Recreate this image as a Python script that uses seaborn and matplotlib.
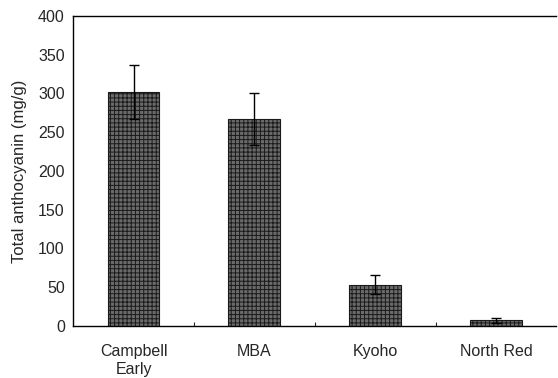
import numpy as np
import pandas as pd
import matplotlib
matplotlib.use("Agg")
import matplotlib.pyplot as plt
import seaborn as sns

# values
cultivars = ["Campbell\nEarly", "MBA", "Kyoho", "North Red"]
anthocyanin = [302, 267, 53, 7]
sd = [35, 34, 12, 3]

df = pd.DataFrame({"cultivar": cultivars, "value": anthocyanin})

sns.set_style("white")
plt.rcParams["font.family"] = ["Liberation Sans", "DejaVu Sans"]
plt.rcParams["hatch.color"] = "black"
plt.rcParams["hatch.linewidth"] = 0.7

fig = plt.figure(figsize=(5.58, 3.78), dpi=100)
ax = fig.add_axes([0.131, 0.138, 0.866, 0.820])

sns.barplot(data=df, x="cultivar", y="value", color="#6a6a6a", width=0.43,
            edgecolor="#1a1a1a", linewidth=0.8, hatch="++++", saturation=1,
            errorbar=None, ax=ax)
ax.errorbar(np.arange(len(cultivars)), anthocyanin, yerr=sd, fmt="none",
            ecolor="black", elinewidth=1.0, capsize=3.5, capthick=1.0)

ax.set_xlim(-0.5, 3.5)
ax.set_ylim(0, 400)
ax.set_yticks(range(0, 401, 50))
ax.set_xlabel("")
ax.set_ylabel("Total anthocyanin (mg/g)", fontsize=12, labelpad=8)
ax.tick_params(axis="y", direction="in", length=3, width=0.8, labelsize=11.5, pad=6)
ax.tick_params(axis="x", length=0, labelsize=11.5, pad=13)
for lbl in ax.get_xticklabels():
    lbl.set_linespacing(1.25)
ax.set_xticks([0.5, 1.5, 2.5], minor=True)
ax.tick_params(axis="x", which="minor", direction="in", length=3, width=0.8, bottom=True)

for side in ["left", "bottom", "top"]:
    ax.spines[side].set_color("black")
    ax.spines[side].set_linewidth(1.0)
ax.spines["right"].set_visible(False)

fig.savefig("out.png", dpi=100, facecolor="white")
